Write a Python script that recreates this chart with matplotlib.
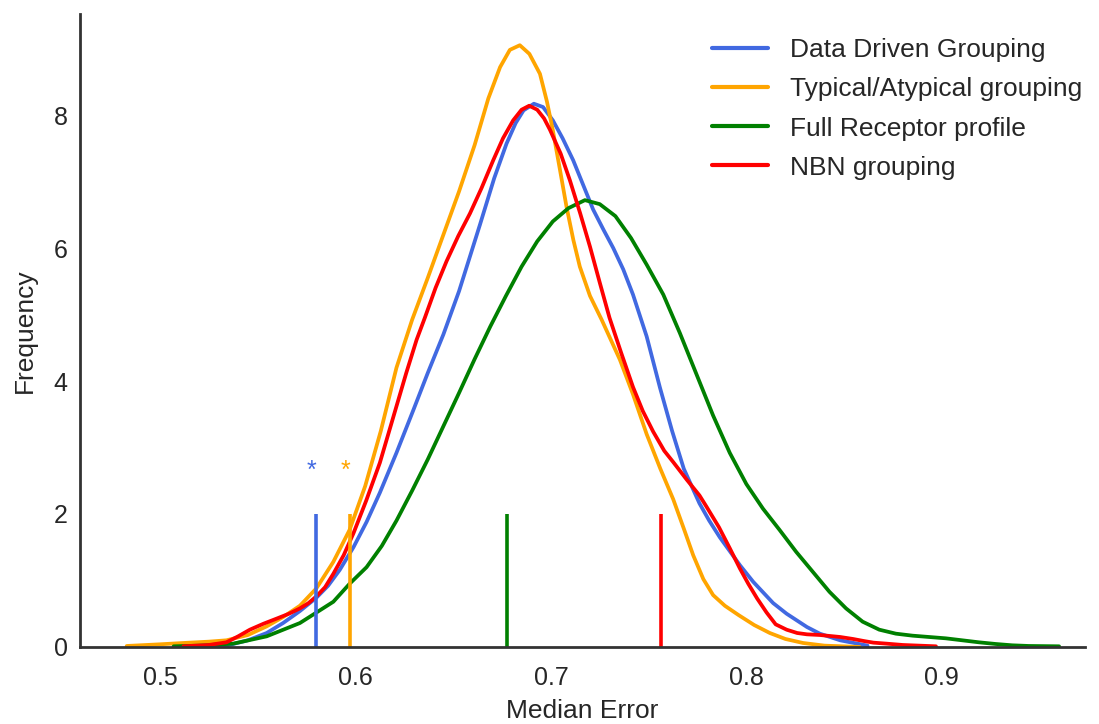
import matplotlib
matplotlib.use("Agg")
import matplotlib.pyplot as plt
import seaborn as sns

# ---------------- data ----------------
labels = ["Data Driven Grouping", "Typical/Atypical grouping",
          "Full Receptor profile", "NBN grouping"]
colors = ["royalblue", "orange", "green", "red"]

# density curves: x = median error, y = frequency (density)
dd_x = [0.520, 0.534, 0.545, 0.5546, 0.563, 0.5716, 0.580, 0.586, 0.592, 0.599,
        0.6057, 0.6125, 0.621, 0.6296, 0.637, 0.645, 0.653, 0.6637, 0.671, 0.6773,
        0.682, 0.686, 0.6913, 0.696, 0.701, 0.706, 0.7114, 0.7165, 0.7216, 0.727,
        0.7319, 0.737, 0.742, 0.749, 0.7558, 0.762, 0.768, 0.776, 0.781, 0.7864,
        0.7967, 0.8035, 0.8137, 0.8206, 0.831, 0.8376, 0.848, 0.855, 0.862]
dd_y = [0.00, 0.02, 0.10, 0.21, 0.36, 0.54, 0.74, 0.92, 1.16, 1.50,
        1.88, 2.32, 2.92, 3.56, 4.12, 4.70, 5.35, 6.35, 7.05, 7.57,
        7.88, 8.07, 8.17, 8.12, 7.92, 7.65, 7.32, 6.95, 6.58, 6.27,
        6.00, 5.68, 5.30, 4.67, 3.90, 3.25, 2.68, 2.16, 1.90, 1.65,
        1.23, 0.98, 0.66, 0.50, 0.30, 0.20, 0.10, 0.06, 0.02]

ta_x = [0.483, 0.500, 0.512, 0.525, 0.534, 0.545, 0.5546, 0.563, 0.5716, 0.580,
        0.5887, 0.597, 0.605, 0.613, 0.621, 0.629, 0.637, 0.645, 0.653, 0.661,
        0.668, 0.674, 0.679, 0.6841, 0.689, 0.6944, 0.698, 0.701, 0.7045, 0.708,
        0.7115, 0.7148, 0.720, 0.726, 0.7353, 0.742, 0.749, 0.756, 0.7626, 0.768,
        0.7728, 0.778, 0.783, 0.789, 0.796, 0.804, 0.812, 0.820, 0.829, 0.840,
        0.858]
ta_y = [0.015, 0.04, 0.06, 0.08, 0.10, 0.18, 0.31, 0.45, 0.62, 0.88,
        1.28, 1.76, 2.42, 3.25, 4.20, 4.92, 5.55, 6.20, 6.85, 7.55,
        8.25, 8.72, 8.98, 9.05, 8.92, 8.62, 8.20, 7.77, 7.20, 6.62,
        6.12, 5.72, 5.28, 4.92, 4.32, 3.80, 3.20, 2.68, 2.22, 1.78,
        1.38, 1.02, 0.78, 0.62, 0.48, 0.33, 0.21, 0.12, 0.06, 0.02,
        0.00]

fr_x = [0.507, 0.520, 0.5375, 0.5546, 0.5716, 0.5887, 0.597, 0.6057, 0.6135, 0.621,
        0.629, 0.637, 0.645, 0.653, 0.661, 0.669, 0.677, 0.685, 0.693, 0.701,
        0.709, 0.7174, 0.725, 0.733, 0.741, 0.749, 0.7575, 0.766, 0.7745, 0.783,
        0.7915, 0.800, 0.8085, 0.817, 0.8255, 0.834, 0.8425, 0.851, 0.8595, 0.868,
        0.8765, 0.885, 0.8935, 0.902, 0.9105, 0.919, 0.9275, 0.936, 0.9445, 0.960]
fr_y = [0.01, 0.02, 0.05, 0.16, 0.36, 0.68, 0.95, 1.20, 1.52, 1.90,
        2.35, 2.82, 3.32, 3.82, 4.33, 4.82, 5.28, 5.72, 6.10, 6.40,
        6.60, 6.72, 6.66, 6.48, 6.15, 5.75, 5.30, 4.72, 4.10, 3.48,
        2.92, 2.45, 2.08, 1.76, 1.43, 1.13, 0.83, 0.58, 0.38, 0.26,
        0.20, 0.17, 0.15, 0.13, 0.10, 0.07, 0.045, 0.025, 0.015, 0.01]

nbn_x = [0.512, 0.525, 0.534, 0.540, 0.546, 0.553, 0.560, 0.566, 0.5716, 0.576,
         0.580, 0.5845, 0.5887, 0.594, 0.599, 0.6055, 0.6125, 0.620, 0.626, 0.6313,
         0.6355, 0.641, 0.6466, 0.6526, 0.6586, 0.6645, 0.6705, 0.6755, 0.6807, 0.685,
         0.6889, 0.693, 0.6965, 0.6995, 0.705, 0.7097, 0.715, 0.720, 0.725, 0.730,
         0.736, 0.742, 0.747, 0.7523, 0.758, 0.7626, 0.7694, 0.776, 0.7796, 0.786,
         0.7916, 0.7967, 0.801, 0.8055, 0.8103, 0.815, 0.8206, 0.826, 0.831, 0.8376,
         0.848, 0.8546, 0.860, 0.865, 0.8717, 0.880, 0.897]
nbn_y = [0.01, 0.03, 0.07, 0.16, 0.26, 0.35, 0.43, 0.50, 0.58, 0.66,
         0.76, 0.90, 1.10, 1.38, 1.71, 2.20, 2.77, 3.52, 4.12, 4.62,
         4.95, 5.40, 5.80, 6.18, 6.52, 6.90, 7.32, 7.65, 7.92, 8.08,
         8.14, 8.08, 7.95, 7.78, 7.42, 7.02, 6.52, 6.02, 5.48, 4.95,
         4.42, 3.91, 3.55, 3.24, 2.95, 2.78, 2.52, 2.28, 2.11, 1.80,
         1.48, 1.18, 0.95, 0.73, 0.52, 0.34, 0.26, 0.21, 0.19, 0.18,
         0.15, 0.12, 0.09, 0.065, 0.05, 0.03, 0.01]

# observed values (vertical markers) and significance stars
marker_x = [0.5798, 0.5972, 0.6775, 0.7565]
marker_height = 2.0
star_x = [0.5777, 0.5951]
star_y = 2.65
star_colors = ["royalblue", "orange"]

# ---------------- plotting ----------------
sns.set_theme(style="white")
plt.rcParams["font.family"] = ["Liberation Sans", "DejaVu Sans"]
plt.rcParams["text.color"] = ".15"
plt.rcParams["axes.labelcolor"] = ".15"
plt.rcParams["xtick.color"] = ".15"
plt.rcParams["ytick.color"] = ".15"

fig = plt.figure(figsize=(10.99, 7.24), dpi=100)
ax = fig.add_axes([0.0728, 0.1064, 0.9142, 0.8743])

curves = [(dd_x, dd_y), (ta_x, ta_y), (fr_x, fr_y), (nbn_x, nbn_y)]
for (xs, ys), lab, c in zip(curves, labels, colors):
    ax.plot(xs, ys, color=c, lw=2.7, label=lab, solid_joinstyle="round",
            solid_capstyle="round")

for mx, c in zip(marker_x, colors):
    ax.vlines(mx, 0, marker_height, color=c, lw=2.6)

for sx, c in zip(star_x, star_colors):
    ax.text(sx, star_y, "*", color=c, fontsize=18, ha="center", va="center")

ax.set_xlim(0.4591, 0.9731)
ax.set_ylim(0, 9.52)
ax.set_xticks([0.5, 0.6, 0.7, 0.8, 0.9])
ax.set_xticklabels(["0.5", "0.6", "0.7", "0.8", "0.9"])
ax.set_yticks([0, 2, 4, 6, 8])
ax.tick_params(axis="x", labelsize=18, pad=14, length=0)
ax.tick_params(axis="y", labelsize=18, pad=9, length=0)
ax.set_xlabel("Median Error", fontsize=19, labelpad=6)
ax.set_ylabel("Frequency", fontsize=19, labelpad=12)

for side in ["top", "right"]:
    ax.spines[side].set_visible(False)
for side in ["left", "bottom"]:
    ax.spines[side].set_color(".2")
    ax.spines[side].set_linewidth(2.0)

leg = ax.legend(loc="upper right", frameon=False, fontsize=19,
                handlelength=2.15, handletextpad=0.8, labelspacing=0.57,
                bbox_to_anchor=(1.0076, 0.978), borderaxespad=0.0)
for h in leg.get_lines():
    h.set_linewidth(3.0)

fig.savefig("out.png", dpi=100)
